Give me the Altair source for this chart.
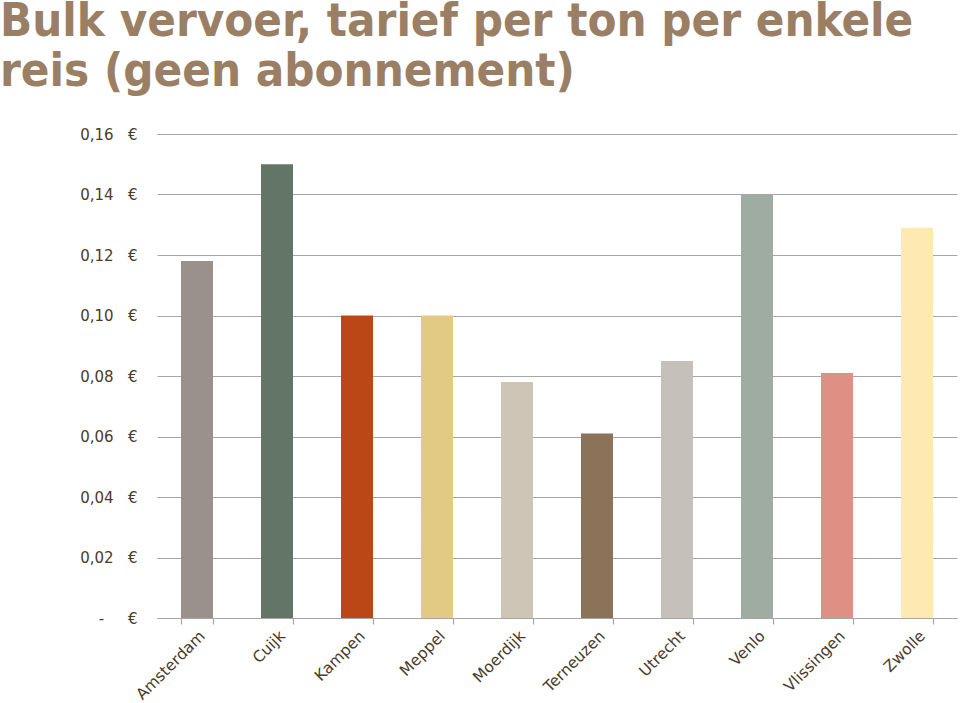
import altair as alt
import pandas as pd

cities = ["Amsterdam", "Cuijk", "Kampen", "Meppel", "Moerdijk", "Terneuzen",
          "Utrecht", "Venlo", "Vlissingen", "Zwolle"]
tarief = [0.118, 0.150, 0.100, 0.100, 0.078, 0.061, 0.085, 0.140, 0.081, 0.129]
colors = ["#9A918C", "#637566", "#BB4616", "#E2CA85", "#CFC5B7", "#8B735A",
          "#C5C0BA", "#9FACA1", "#DF9084", "#FDE9B1"]
y_ticks = [0, 0.02, 0.04, 0.06, 0.08, 0.10, 0.12, 0.14, 0.16]

df = pd.DataFrame({"stad": cities, "tarief": tarief})

label_color = "#4A3B2B"
grid_color = "#A6A6A6"

chart = alt.Chart(df).mark_bar().encode(
    x=alt.X("stad:N", sort=cities,
            scale=alt.Scale(paddingInner=0.6, paddingOuter=0.3),
            axis=alt.Axis(title=None, labelAngle=-45, labelFont="DejaVu Sans",
                          labelFontSize=15.5, labelColor=label_color,
                          domainColor=grid_color, tickColor=grid_color,
                          domainWidth=1.2, tickWidth=1.2,
                          tickSize=6, tickBand="extent", labelPadding=4,
                          grid=False)),
    y=alt.Y("tarief:Q", scale=alt.Scale(domain=[0, 0.16], nice=False),
            axis=alt.Axis(title=None, values=y_ticks, domain=False, ticks=False,
                          gridColor=grid_color, gridWidth=1.2,
                          labelFont="DejaVu Sans", labelFontSize=15,
                          labelColor=label_color, labelPadding=20,
                          labelExpr="datum.value == 0 ? '-\u00a0\u00a0\u00a0\u00a0\u00a0€' : replace(format(datum.value, '.2f'), '.', ',') + '\u00a0\u00a0\u00a0€'")),
    color=alt.Color("stad:N", scale=alt.Scale(domain=cities, range=colors), legend=None),
).properties(
    width=800, height=484,
    title=alt.TitleParams(
        text=["Bulk vervoer, tarief per ton per enkele", "reis (geen abonnement)"],
        anchor="start", frame="group", dx=-157, offset=31,
        font="DejaVu Sans Condensed", fontSize=47, fontWeight="bold",
        color="#9A7F64", lineHeight=50),
    autosize=alt.AutoSizeParams(type="none"),
    padding={"left": 157, "top": 134, "right": 3, "bottom": 85},
).configure_view(stroke=None)

chart.save("out.html", embed_options={"renderer": "svg", "actions": False})
